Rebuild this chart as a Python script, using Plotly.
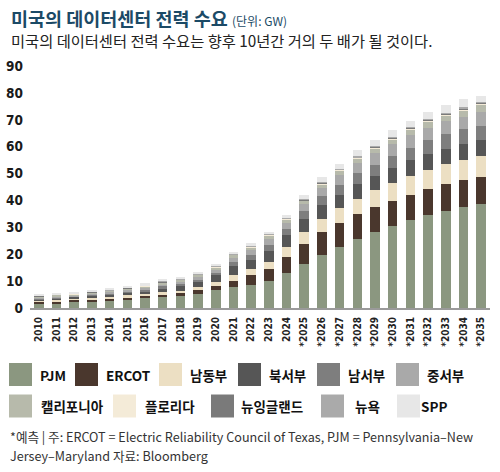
import plotly.graph_objects as go

years = ["2010", "2011", "2012", "2013", "2014", "2015", "2016", "2017", "2018",
         "2019", "2020", "2021", "2022", "2023", "2024", "*2025", "*2026", "*2027",
         "*2028", "*2029", "*2030", "*2031", "*2032", "*2033", "*2034", "*2035"]

pjm = [1.6, 1.6, 2.1, 2.5, 2.6, 2.85, 3.6, 4.0, 4.5, 5.2, 6.6, 7.8, 8.7, 10.2, 12.9,
       16.4, 19.7, 22.8, 25.8, 28.1, 30.5, 32.8, 34.6, 36.1, 37.7, 38.7]
ercot = [0.75, 0.9, 0.75, 0.6, 0.75, 1.0, 0.75, 1.0, 1.1, 1.5, 1.75, 2.35, 3.5, 4.4, 6.2,
         7.5, 8.4, 8.9, 9.2, 9.3, 9.4, 9.3, 9.8, 10.0, 9.9, 10.1]
southeast = [0.5, 0.6, 0.75, 0.9, 1.0, 0.87, 0.87, 1.0, 0.87, 1.25, 1.36, 2.1, 2.3, 2.6, 3.5,
             4.2, 5.1, 5.4, 5.6, 6.4, 6.6, 7.0, 7.0, 7.3, 7.4, 7.7]
northwest = [0.45, 0.55, 0.5, 0.6, 0.7, 0.9, 1.1, 1.4, 1.6, 1.8, 2.4, 3.2, 3.4, 4.1, 4.4,
             4.9, 5.0, 5.0, 5.4, 5.4, 5.5, 5.8, 5.8, 5.9, 5.9, 6.0]
southwest = [0.35, 0.4, 0.35, 0.4, 0.45, 0.55, 0.6, 0.7, 0.8, 0.85, 1.0, 1.5, 1.8, 2.2, 2.5,
             2.9, 3.3, 3.8, 4.3, 4.1, 4.6, 4.7, 5.4, 5.4, 5.6, 5.3]
midwest = [0.35, 0.4, 0.35, 0.4, 0.45, 0.55, 0.65, 0.75, 0.8, 0.9, 1.1, 1.7, 1.9, 2.0, 2.2,
           2.6, 3.0, 3.4, 3.6, 4.2, 4.4, 4.7, 4.2, 4.7, 4.6, 5.2]
california = [0.35, 0.4, 0.4, 0.4, 0.45, 0.55, 0.6, 0.7, 0.75, 0.8, 0.9, 1.1, 1.0, 1.5, 1.3,
              1.4, 1.6, 1.8, 1.7, 1.9, 1.8, 2.1, 2.5, 2.2, 2.3, 2.5]
florida = [0.1, 0.1, 0.1, 0.1, 0.1, 0.1, 0.1, 0.1, 0.1, 0.1, 0.15, 0.15, 0.15, 0.15, 0.2,
           0.2, 0.25, 0.25, 0.3, 0.3, 0.35, 0.35, 0.4, 0.4, 0.45, 0.45]
newengland = [0.1, 0.1, 0.1, 0.1, 0.1, 0.1, 0.1, 0.1, 0.1, 0.1, 0.1, 0.1, 0.1, 0.1, 0.1,
              0.15, 0.15, 0.15, 0.2, 0.2, 0.2, 0.3, 0.3, 0.3, 0.3, 0.3]
newyork = [0.1, 0.1, 0.1, 0.1, 0.1, 0.1, 0.15, 0.15, 0.15, 0.15, 0.15, 0.15, 0.15, 0.15, 0.2,
           0.25, 0.3, 0.3, 0.3, 0.3, 0.35, 0.35, 0.4, 0.4, 0.45, 0.45]
spp = [0.3, 0.35, 0.3, 0.4, 0.5, 0.65, 0.7, 0.8, 0.9, 0.9, 1.0, 0.8, 1.1, 0.9, 1.1,
       1.5, 1.8, 1.7, 2.4, 2.3, 2.5, 2.3, 2.4, 2.8, 3.0, 2.3]

series_names = ["PJM", "ERCOT", "남동부", "북서부", "남서부", "중서부",
                "캘리포니아", "플로리다", "뉴잉글랜드", "뉴욕", "SPP"]
series_values = [pjm, ercot, southeast, northwest, southwest, midwest,
                 california, florida, newengland, newyork, spp]
series_colors = ["#8b9780", "#4a372d", "#ecdfc3", "#565656", "#7e7e7e", "#a9a9a9",
                 "#b7baab", "#f4ebd8", "#7a7a7a", "#aaaaaa", "#e7e7e7"]

y_ticks = [0, 10, 20, 30, 40, 50, 60, 70, 80, 90]

W, H = 500, 472
L, R, T, B = 30, 10, 66, 164
pw, ph = W - L - R, H - T - B


def px(x):
    return (x - L) / pw


def py(y):
    return (H - B - y) / ph


fig = go.Figure()
for name, vals, col in zip(series_names, series_values, series_colors):
    fig.add_trace(go.Bar(x=years, y=vals, name=name, marker=dict(color=col, line=dict(width=0)),
                         showlegend=False))

cond = "DejaVu Sans Condensed"
kr = "Noto Sans CJK KR"

fig.update_layout(
    width=W, height=H, barmode="stack", bargap=0.46,
    margin=dict(l=L, r=R, t=T, b=B, pad=0, autoexpand=False),
    paper_bgcolor="white", plot_bgcolor="white",
    xaxis=dict(type="category", tickangle=-90, showgrid=False, showline=True,
               linecolor="#9a9a9a", linewidth=2, ticks="", ticklabelstandoff=3,
               automargin=False,
               tickfont=dict(family=cond, size=10, color="#222", weight="bold"),
               range=[-0.5, 25.5], fixedrange=True),
    yaxis=dict(range=[0, 90], tickvals=y_ticks, showgrid=False, zeroline=False,
               showline=False, ticks="", ticklabelstandoff=6, automargin=False,
               tickfont=dict(family=cond, size=13.5, color="#1a1a1a", weight="bold"),
               fixedrange=True),
)

ann = []
ann.append(dict(x=px(9), y=py(18), xref="paper", yref="paper", xanchor="left", yanchor="middle",
                showarrow=False,
                text="<b>미국의 데이터센터 전력 수요</b> <span style='font-size:12px'>(단위: GW)</span>",
                font=dict(family=kr, size=18.5, color="#1b4a66")))
ann.append(dict(x=px(9), y=py(40), xref="paper", yref="paper", xanchor="left", yanchor="middle",
                showarrow=False,
                text="미국의 데이터센터 전력 수요는 향후 10년간 거의 두 배가 될 것이다.",
                font=dict(family=kr, size=15.3, color="#222")))

# legend drawn manually
sw_x = [9, 75, 159, 238, 317, 396, 9, 113, 211, 321, 397]
lab_x = [38, 104, 188, 267, 346, 425, 39, 143, 239, 353, 419]
rows_y = [374.5, 406]
shapes = []
for i, (name, col) in enumerate(zip(series_names, series_colors)):
    ry = rows_y[0] if i < 6 else rows_y[1]
    shapes.append(dict(type="rect", xref="paper", yref="paper",
                       x0=px(sw_x[i]), x1=px(sw_x[i] + 23), y0=py(ry - 11.5), y1=py(ry + 11.5),
                       fillcolor=col, line=dict(width=0)))
    ann.append(dict(x=px(lab_x[i]), y=py(ry), xref="paper", yref="paper", xanchor="left",
                    yanchor="middle", showarrow=False, text=name,
                    font=dict(family=kr, size=13.5, color="#111", weight="bold")))

ann.append(dict(x=px(8), y=py(436.5), xref="paper", yref="paper", xanchor="left", yanchor="middle",
                showarrow=False,
                text="*예측 | 주: ERCOT = Electric Reliability Council of Texas, PJM = Pennsylvania–New",
                font=dict(family=kr, size=12.6, color="#333")))
ann.append(dict(x=px(8), y=py(455.5), xref="paper", yref="paper", xanchor="left", yanchor="middle",
                showarrow=False, text="Jersey–Maryland 자료: Bloomberg",
                font=dict(family=kr, size=12.6, color="#333")))

fig.update_layout(annotations=ann, shapes=shapes)
fig.write_html("out.html", config={"displayModeBar": False},
               post_script="document.body.style.margin='0px';document.body.style.overflow='hidden';")
